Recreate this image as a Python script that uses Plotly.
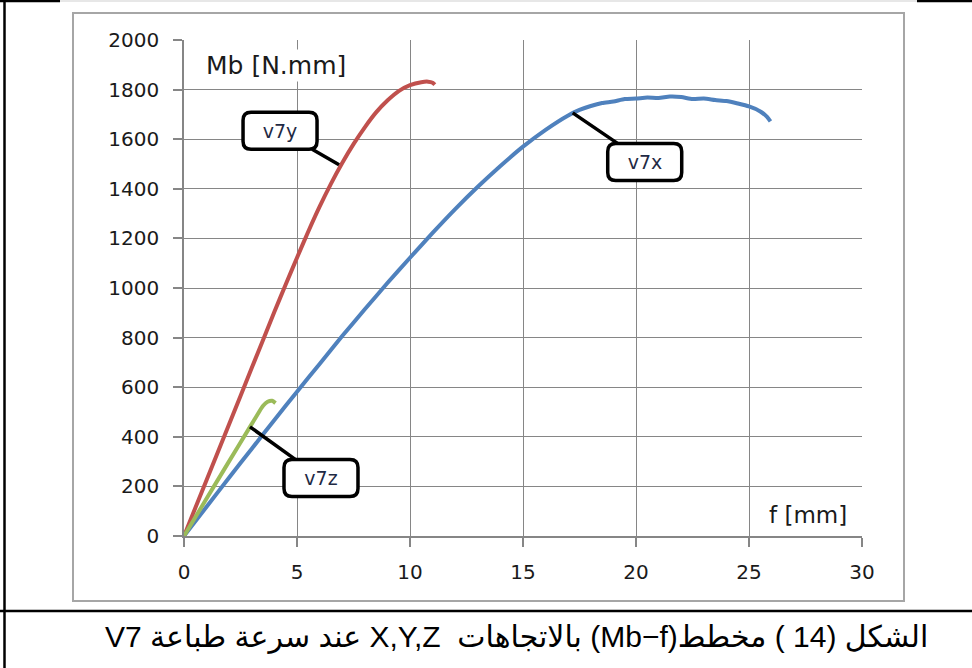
import plotly.graph_objects as go

# Bending moment Mb [N.mm] against deflection f [mm] for specimen V7
f_x = [0, 1, 2, 3, 4, 5, 6, 7, 8, 9, 10, 11, 12, 13, 14, 15, 16, 17, 17.5, 18, 18.5,
       19, 19.5, 20, 20.5, 21, 21.5, 22, 22.5, 23, 23.5, 24, 24.5, 25, 25.5, 25.8, 25.95]
mb_x = [0, 118, 236, 352, 468, 582, 694, 806, 914, 1020, 1122, 1222, 1318, 1408, 1492,
        1570, 1638, 1696, 1718, 1734, 1746, 1752, 1762, 1764, 1768, 1766, 1772, 1770,
        1762, 1764, 1758, 1754, 1744, 1732, 1712, 1690, 1672]

f_y = [0, 1, 2, 3, 4, 4.5, 5, 5.5, 6, 6.5, 7, 7.5, 8, 8.5, 9, 9.5, 10, 10.5, 10.8, 11.0, 11.1]
mb_y = [0, 226, 452, 678, 904, 1014, 1122, 1228, 1328, 1420, 1504, 1580, 1648, 1708,
        1756, 1794, 1818, 1830, 1832, 1828, 1820]

f_z = [0, 1, 2, 2.92, 3.3, 3.5, 3.7, 3.9, 4.05]
mb_z = [0, 151, 302, 440, 497, 525, 541, 545, 536]

series_names = ["v7x", "v7y", "v7z"]
series_colors = ["#4F81BD", "#C0504D", "#9BBB59"]

# callout anchor points on each curve
callout_f = [17.2, 6.86, 2.92]
callout_mb = [1706, 1497, 440]
callout_offset = [(72, 49), (-59, -34), (71, 51)]

x_ticks = [0, 5, 10, 15, 20, 25, 30]
y_ticks = [0, 200, 400, 600, 800, 1000, 1200, 1400, 1600, 1800, 2000]

caption = "الشكل (14 ) مخطط(Mb−f) بالاتجاهات  X,Y,Z عند سرعة طباعة V7"

W, H = 972, 668
ML, MR, MT, MB = 184, 110, 40, 132
PW, PH = W - ML - MR, H - MT - MB


def px(xp):
    return (xp - ML) / PW


def py(yp):
    return (H - MB - yp) / PH


fig = go.Figure()
for fx, my, name, col in zip([f_x, f_y, f_z], [mb_x, mb_y, mb_z], series_names, series_colors):
    fig.add_trace(go.Scatter(x=fx, y=my, mode="lines", name=name,
                             line=dict(color=col, width=4, shape="spline", smoothing=0.6),
                             showlegend=False))

tick_font = dict(family="DejaVu Sans", size=20, color="#1a1a1a")
grid = "#868686"

fig.update_xaxes(range=[0, 30], tickvals=x_ticks, ticktext=[str(v) for v in x_ticks],
                 showgrid=True, gridcolor=grid, gridwidth=1, zeroline=False,
                 showline=True, linecolor=grid, linewidth=1.5,
                 ticks="outside", ticklen=9, tickcolor=grid, tickwidth=1.5,
                 tickfont=tick_font, ticklabelstandoff=8)
fig.update_yaxes(range=[0, 2000], tickvals=y_ticks, ticktext=[str(v) for v in y_ticks],
                 showgrid=True, gridcolor=grid, gridwidth=1, zeroline=False,
                 showline=True, linecolor=grid, linewidth=1.5,
                 ticks="outside", ticklen=9, tickcolor=grid, tickwidth=1.5,
                 tickfont=tick_font, ticklabelstandoff=10)

shapes = []
# outer frame of the figure cell
shapes.append(dict(type="line", xref="paper", yref="paper", x0=px(4.5), x1=px(4.5),
                   y0=py(0), y1=py(H), line=dict(color="black", width=2.5)))
shapes.append(dict(type="line", xref="paper", yref="paper", x0=px(0), x1=px(W),
                   y0=py(611), y1=py(611), line=dict(color="black", width=2.5)))
shapes.append(dict(type="line", xref="paper", yref="paper", x0=px(0), x1=px(60),
                   y0=py(1), y1=py(1), line=dict(color="black", width=2.5)))
shapes.append(dict(type="line", xref="paper", yref="paper", x0=px(917), x1=px(W),
                   y0=py(1), y1=py(1), line=dict(color="black", width=2.5)))
shapes.append(dict(type="line", xref="paper", yref="paper", x0=px(60), x1=px(917),
                   y0=py(1), y1=py(1), line=dict(color="#cfcfcf", width=1)))
# chart area border
shapes.append(dict(type="rect", xref="paper", yref="paper", x0=px(73), x1=px(904),
                   y0=py(601), y1=py(13), line=dict(color="#a6a6a6", width=2), layer="below"))

annotations = []
bw, bh, r = 74, 37, 8
for name, fc, mc, (dx, dy) in zip(series_names, callout_f, callout_mb, callout_offset):
    x0, x1 = dx - bw / 2, dx + bw / 2
    y0, y1 = -dy - bh / 2, -dy + bh / 2
    path = (f"M{x0 + r},{y0} L{x1 - r},{y0} Q{x1},{y0} {x1},{y0 + r} "
            f"L{x1},{y1 - r} Q{x1},{y1} {x1 - r},{y1} L{x0 + r},{y1} "
            f"Q{x0},{y1} {x0},{y1 - r} L{x0},{y0 + r} Q{x0},{y0} {x0 + r},{y0} Z")
    shapes.append(dict(type="path", xref="x", yref="y", xsizemode="pixel", ysizemode="pixel",
                       xanchor=fc, yanchor=mc, path=path, fillcolor="white",
                       line=dict(color="black", width=3.5), layer="above"))
    annotations.append(dict(x=fc, y=mc, ax=dx, ay=dy, text=name, showarrow=True,
                            arrowhead=0, arrowwidth=3.5, arrowcolor="black", standoff=0,
                            width=bw, height=bh, borderpad=0, borderwidth=0,
                            font=dict(family="DejaVu Sans", size=19, color="#1f2a44")))

title_font = dict(family="DejaVu Sans", size=25, color="#1a1a1a")
annotations.append(dict(x=px(204), y=py(66), xref="paper", yref="paper", text="Mb [N.mm]",
                        showarrow=False, xanchor="left", yanchor="middle", font=title_font,
                        bgcolor="white"))
annotations.append(dict(x=px(849), y=py(515), xref="paper", yref="paper", text="f [mm]",
                        showarrow=False, xanchor="right", yanchor="middle",
                        font=dict(family="DejaVu Sans", size=23, color="#1a1a1a"),
                        bgcolor="white"))
annotations.append(dict(x=px(930), y=py(637), xref="paper", yref="paper",
                        text="\u202b" + caption + "\u202c", showarrow=False,
                        xanchor="right", yanchor="middle",
                        font=dict(family="Liberation Sans, DejaVu Sans", size=30, color="black")))

fig.update_layout(width=W, height=H, margin=dict(l=ML, r=MR, t=MT, b=MB),
                  paper_bgcolor="white", plot_bgcolor="white",
                  shapes=shapes, annotations=annotations)

fig.write_html("out.html")
